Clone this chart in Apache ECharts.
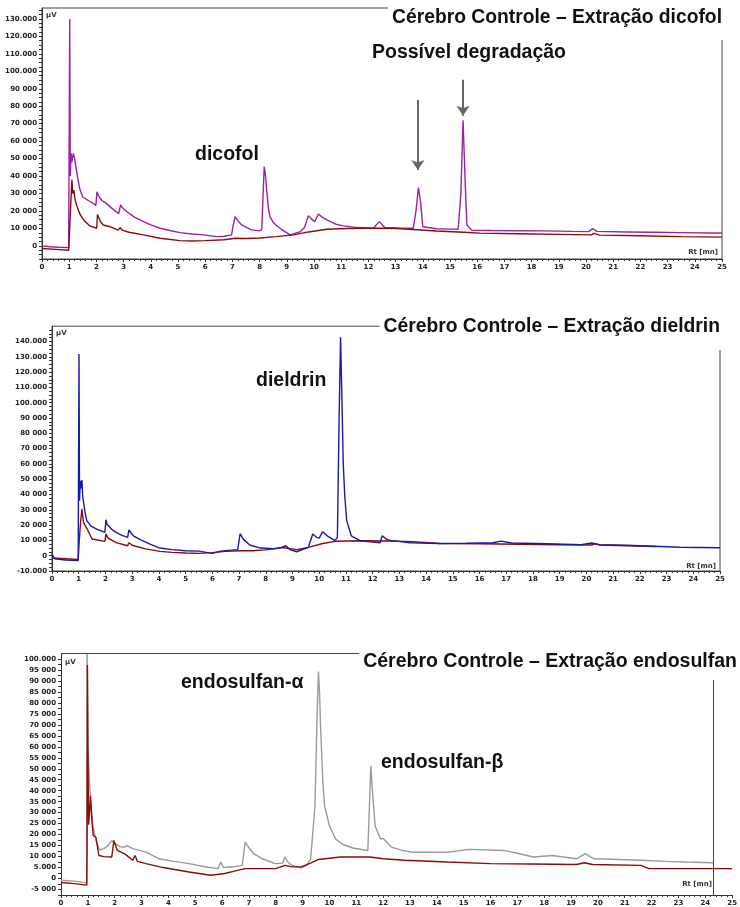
<!DOCTYPE html>
<html><head><meta charset="utf-8">
<script src="https://cdn.jsdelivr.net/npm/echarts/dist/echarts.min.js"></script>
<style>html,body{margin:0;padding:0;background:#fff}#c{width:740px;height:907px}</style>
</head><body><div id="c"></div><script>
// ---------- DATA ----------
const panelTitles = ['Cérebro Controle – Extração dicofol','Cérebro Controle – Extração dieldrin','Cérebro Controle – Extração endosulfan'];
const xTickValues = [0,1,2,3,4,5,6,7,8,9,10,11,12,13,14,15,16,17,18,19,20,21,22,23,24,25];
const xTickLabels = ['0','1','2','3','4','5','6','7','8','9','10','11','12','13','14','15','16','17','18','19','20','21','22','23','24','25'];

const p1YTickValues = [130000,120000,110000,100000,90000,80000,70000,60000,50000,40000,30000,20000,10000,0];
const p1YTickLabels = ['130.000','120.000','110.000','100.000','90 000','80 000','70 000','60 000','50 000','40 000','30 000','20 000','10 000','0'];
const p2YTickValues = [140000,130000,120000,110000,100000,90000,80000,70000,60000,50000,40000,30000,20000,10000,0,-10000];
const p2YTickLabels = ['140.000','130.000','120.000','110.000','100.000','90 000','80 000','70 000','60 000','50 000','40 000','30 000','20 000','10 000','0','-10.000'];
const p3YTickValues = [100000,95000,90000,85000,80000,75000,70000,65000,60000,55000,50000,45000,40000,35000,30000,25000,20000,15000,10000,5000,0,-5000];
const p3YTickLabels = ['100.000','95 000','90 000','85 000','80 000','75 000','70 000','65 000','60 000','55 000','50 000','45 000','40 000','35 000','30 000','25 000','20 000','15 000','10 000','5.000','0','-5 000'];

// Panel 1: dicofol sample (purple) and control (dark red) — [time min, µV]
const p1Sample = [[0,0],[0.3,-500],[0.6,-800],[0.98,-1000],[1.0,-800],[1.02,130000],[1.04,40000],[1.07,53000],[1.1,48000],[1.15,53000],[1.2,50000],[1.3,40000],[1.4,32000],[1.5,28000],[1.7,26000],[1.89,24400],[1.98,23000],[2.02,31000],[2.07,29000],[2.2,26000],[2.35,24500],[2.5,22500],[2.65,20500],[2.82,18500],[2.89,23500],[2.95,22000],[3.11,19700],[3.4,16500],[3.73,13900],[4.0,12000],[4.34,10100],[4.7,8800],[5.07,7600],[5.5,6800],[5.93,6300],[6.42,5300],[6.7,5500],[6.97,6300],[7.03,12000],[7.1,16800],[7.2,14500],[7.34,12000],[7.7,9200],[8.0,8600],[8.08,9500],[8.13,30000],[8.17,45400],[8.22,40000],[8.26,32000],[8.32,22000],[8.38,16800],[8.5,13500],[8.6,12000],[8.66,12500],[8.8,9500],[9.12,6300],[9.5,8200],[9.65,10500],[9.79,17200],[9.9,15500],[10.03,13900],[10.16,18300],[10.3,16500],[10.47,14900],[10.8,12500],[11.08,11500],[11.6,10500],[12.18,10100],[12.4,13900],[12.6,10600],[13.2,10100],[13.65,10100],[13.75,20000],[13.84,33400],[13.92,25000],[14.0,11000],[14.5,9800],[15.0,9600],[15.3,9500],[15.4,30000],[15.48,72000],[15.55,40000],[15.62,12000],[15.8,9000],[16.5,8800],[17.5,8700],[18.5,8600],[19.5,8300],[20.1,8200],[20.25,10000],[20.4,8300],[21.5,8000],[22.5,7800],[23.5,7600],[24.5,7400],[25,7400]];
const p1Control = [[0,-1500],[0.5,-2000],[0.98,-2500],[1.0,-2000],[1.03,15000],[1.06,25000],[1.1,38000],[1.13,30000],[1.17,32000],[1.22,26000],[1.29,22500],[1.4,18000],[1.53,14900],[1.75,11500],[2.01,10100],[2.04,18000],[2.07,17200],[2.15,14000],[2.25,12000],[2.5,11000],[2.8,9000],[2.87,10500],[2.95,9000],[3.2,7800],[3.73,6300],[4.34,4400],[5.07,3000],[5.5,2800],[6.0,3000],[6.7,3500],[7.1,4400],[7.5,4200],[8.0,4500],[8.6,5300],[9.24,6300],[9.8,8000],[10.47,9500],[11.2,10000],[12.0,10200],[12.9,10100],[13.5,9500],[14.5,8500],[15.5,7800],[16.1,7300],[17.5,7000],[19,6600],[20.2,6300],[20.3,7200],[20.5,6200],[22,5800],[23.5,5300],[25,5000]];
// annotation arrows: [time, start µV, tip µV]
const p1Arrows = [[13.82,83600,43500],[15.48,95100,74500]];

// Panel 2: dieldrin sample (blue) and control (dark red)
const p2Sample = [[0,1000],[0.1,-2000],[0.5,-2800],[0.98,-3200],[1.0,-2500],[1.01,131800],[1.03,36000],[1.06,49000],[1.09,44000],[1.12,49500],[1.15,39000],[1.22,30000],[1.3,22900],[1.45,19500],[1.67,17400],[1.98,15200],[2.02,23500],[2.06,20500],[2.1,19600],[2.25,17000],[2.4,15200],[2.6,13500],[2.83,12000],[2.88,16800],[2.95,15000],[3.05,13000],[3.3,10500],[3.67,7600],[4.04,5000],[4.5,4000],[5.0,3200],[5.5,3000],[6.0,1500],[6.3,3000],[6.6,3500],[6.95,4000],[7.04,14400],[7.15,11000],[7.4,7000],[7.8,5000],[8.3,4500],[8.6,5400],[8.75,6500],[8.9,4000],[9.16,2600],[9.4,4200],[9.59,5400],[9.76,14200],[9.9,12000],[10.0,11500],[10.13,15700],[10.3,13000],[10.59,9800],[10.68,12000],[10.75,94800],[10.8,142700],[10.86,94800],[10.9,60000],[10.96,38000],[11.03,22900],[11.2,13000],[11.53,9800],[12.0,9000],[12.28,8500],[12.36,13000],[12.5,11000],[12.65,10000],[13.4,8500],[14.52,8000],[15.5,8200],[16.5,8500],[16.8,9500],[17.2,8300],[18.5,7800],[19.8,7200],[20.2,8300],[20.5,7200],[21.5,6800],[22.5,6200],[23.5,5500],[25,5200]];
const p2Control = [[0,-1500],[0.5,-2000],[0.98,-2500],[1.0,-2000],[1.02,9800],[1.07,22000],[1.12,30500],[1.18,21600],[1.33,17000],[1.5,10900],[1.98,9400],[2.02,14200],[2.1,11500],[2.4,8500],[2.83,6500],[2.88,8500],[3.0,6800],[3.5,4500],[4.04,2800],[4.5,2200],[5.0,1800],[5.5,1500],[6.0,2000],[6.5,2800],[7.04,3200],[7.5,3200],[8.0,3800],[8.6,5400],[9.16,4000],[9.6,5400],[10.13,8000],[10.6,9400],[11.5,9800],[12.5,9600],[13.5,9200],[14.5,8000],[16,7800],[17.5,7500],[19,7200],[20.2,7000],[20.3,7800],[20.5,7000],[21.5,6500],[22.6,6000]];

// Panel 3: endosulfan sample (grey) and control (dark red)
const p3Sample = [[0,-800],[0.5,-1200],[0.96,-2000],[0.97,105000],[1.01,60000],[1.05,46700],[1.1,36000],[1.19,24000],[1.32,16600],[1.44,13000],[1.6,13600],[1.75,15000],[1.89,17300],[2.0,16000],[2.2,14500],[2.37,14300],[2.45,15000],[2.7,13500],[2.92,12800],[3.17,12000],[3.66,9000],[4.2,7800],[4.77,6800],[5.3,5500],[5.85,4500],[5.95,7500],[6.05,5000],[6.5,5500],[6.75,6000],[6.86,16600],[7.0,14000],[7.18,11300],[7.5,9000],[7.98,6800],[8.25,7000],[8.34,9800],[8.45,7500],[8.6,6000],[8.94,4800],[9.15,6000],[9.3,9000],[9.46,33000],[9.54,75000],[9.59,94300],[9.63,85000],[9.67,69000],[9.75,45000],[9.82,33000],[10.0,24000],[10.23,18000],[10.5,15500],[10.87,13900],[11.2,13200],[11.43,12800],[11.48,30000],[11.54,51300],[11.6,40000],[11.7,24000],[11.9,18000],[12.0,18300],[12.1,17000],[12.31,14300],[12.7,12800],[13.11,12000],[14.4,12000],[15.2,13300],[16.48,12800],[17.0,11500],[17.6,9800],[18.3,10500],[19.2,9000],[19.53,11300],[19.85,9000],[20.5,8800],[21.6,8300],[22.5,7800],[23.3,7500],[24.3,7200]];
const p3Control = [[0,-1800],[0.5,-2300],[0.96,-3000],[0.97,13000],[0.985,97300],[1.0,60000],[1.03,24500],[1.1,37700],[1.14,28000],[1.2,19600],[1.3,18800],[1.41,10500],[1.6,10000],[1.89,9800],[1.97,17300],[2.1,12800],[2.4,11000],[2.67,8300],[2.76,10500],[2.85,7800],[3.17,6800],[3.8,5000],[4.77,3000],[5.58,1500],[6.1,2300],[6.5,3500],[6.86,4500],[7.5,4500],[8.0,4500],[8.34,6000],[8.6,5300],[8.94,5300],[9.3,7000],[9.59,8700],[10.4,9800],[11.5,9800],[12.0,9000],[12.8,8300],[14.4,7500],[16.0,6800],[17.5,6600],[19.2,6400],[19.5,7200],[19.8,6400],[21.6,6000],[21.9,4500],[23,4500],[25,4500]];
const p3FrameRight = 24.3;
const p3FrameTop = 102500;

// ---------- CHART ----------
const chart = echarts.init(document.getElementById('c'), null, {renderer:'canvas'});
const AX = '#333';
const lblFont = {fontSize:7, fontWeight:'bold', color:'#222', fontFamily:'DejaVu Sans'};
function lookup(vals, labels){ return function(v){ const i = vals.findIndex(x => Math.abs(x - v) < 1e-6); return i < 0 ? '' : labels[i]; }; }
function xAxisFor(g){
  return {type:'value', gridIndex:g, min:0, max:25, interval:1,
    axisLine:{show:true, onZero:false, lineStyle:{color:AX, width:1}},
    axisTick:{show:true, length:3, lineStyle:{color:AX}},
    minorTick:{show:true, splitNumber:5, length:2, lineStyle:{color:AX}},
    splitLine:{show:false},
    axisLabel:Object.assign({margin:5, formatter:lookup(xTickValues, xTickLabels)}, lblFont)};
}
function yAxisFor(g, min, max, vals, labels){
  return {type:'value', gridIndex:g, min:min, max:max, interval:2500,
    axisLine:{show:true, onZero:false, lineStyle:{color:AX, width:1}},
    axisTick:{show:true, length:3, lineStyle:{color:AX}},
    splitLine:{show:false},
    axisLabel:Object.assign({margin:5, showMaxLabel:false, formatter:lookup(vals, labels)}, lblFont)};
}
function line(data, g, color, extra){
  return Object.assign({type:'line', xAxisIndex:g, yAxisIndex:g, data:data, showSymbol:false, symbol:'none',
    lineStyle:{color:color, width:1.4}, itemStyle:{color:color}, clip:true, silent:true, z:2}, extra || {});
}
const titleFont = {fontFamily:'Liberation Sans', fontWeight:'bold', fontSize:19.3, lineHeight:24, color:'#111'};
const annFont = {fontFamily:'Liberation Sans', fontWeight:'bold', fontSize:19.5, lineHeight:24, color:'#111'};
const smallFont = {fontFamily:'DejaVu Sans', fontSize:7, lineHeight:8, color:'#333', fontWeight:'bold'};

const option = {
  animation:false,
  backgroundColor:'#fff',
  grid:[
    {left:42, right:18, top:8, height:251, show:true, borderColor:'#444', borderWidth:1, backgroundColor:'transparent'},
    {left:52, right:20, top:326.2, height:244.8, show:true, borderColor:'#444', borderWidth:1, backgroundColor:'transparent'},
    {left:61, right:3, top:653.5, height:243.1, show:false}
  ],
  xAxis:[xAxisFor(0), xAxisFor(1), xAxisFor(2)],
  yAxis:[
    yAxisFor(0, -7500, 136250, p1YTickValues, p1YTickLabels),
    yAxisFor(1, -10000, 150000, p2YTickValues, p2YTickLabels),
    yAxisFor(2, -7500, 102500, p3YTickValues, p3YTickLabels)
  ],
  title:[
    {text:panelTitles[0], right:0, top:0, padding:[6,18,10,4], backgroundColor:'#fff', textStyle:titleFont, z:10},
    {text:panelTitles[1], right:0, top:309, padding:[6,20,11,4], backgroundColor:'#fff', textStyle:titleFont, z:10},
    {text:panelTitles[2], right:0, top:644, padding:[6,3,6,4], backgroundColor:'#fff', textStyle:Object.assign({}, titleFont, {fontSize:19.5}), z:10},
    {text:'Possível degradação', left:372, top:41, padding:0, textStyle:annFont},
    {text:'dicofol', left:195, top:143, padding:0, textStyle:annFont},
    {text:'dieldrin', left:256, top:369, padding:0, textStyle:annFont},
    {text:'endosulfan-α', left:181, top:671, padding:0, textStyle:annFont},
    {text:'endosulfan-β', left:381, top:751, padding:0, textStyle:annFont},
    {text:'µV', left:46, top:11, padding:0, textStyle:smallFont},
    {text:'µV', left:56, top:329, padding:0, textStyle:smallFont},
    {text:'µV', left:65, top:658, padding:0, textStyle:smallFont},
    {text:'Rt [mn]', right:22, top:248, padding:0, textStyle:smallFont},
    {text:'Rt [mn]', right:24, top:562, padding:0, textStyle:smallFont},
    {text:'Rt [mn]', right:28, top:880, padding:0, textStyle:smallFont}
  ],
  series:[
    line(p1Sample, 0, '#a0209f', {markLine:{silent:true, symbol:['none','arrow'], symbolSize:10, animation:false,
      lineStyle:{color:'#666', width:2, type:'solid'}, label:{show:false}, emphasis:{disabled:true},
      data:p1Arrows.map(a => [{coord:[a[0], a[1]], itemStyle:{color:'#111'}}, {coord:[a[0], a[2]], itemStyle:{color:'#111'}}])}}),
    line(p1Control, 0, '#8b0a0a'),
    line(p2Control, 1, '#8b0a0a'),
    line(p2Sample, 1, '#1a1aa8'),
    line(p3Sample, 2, '#9a9a9a'),
    line(p3Control, 2, '#8b0a0a', {markLine:{silent:true, symbol:['none','none'], animation:false,
      lineStyle:{color:'#444', width:1, type:'solid'}, label:{show:false}, emphasis:{disabled:true},
      data:[{xAxis:p3FrameRight}, {yAxis:p3FrameTop}]}})
  ]
};
chart.setOption(option);
</script></body></html>
